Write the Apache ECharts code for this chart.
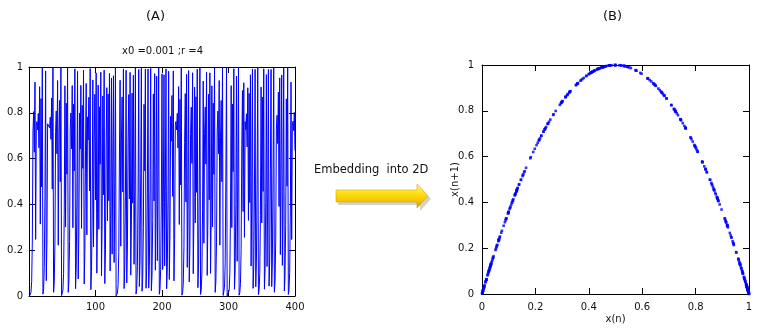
<!DOCTYPE html>
<html>
<head>
<meta charset="utf-8">
<script src="https://cdn.jsdelivr.net/npm/echarts@6/dist/echarts.min.js"></script>
<style>
html,body{margin:0;padding:0;background:#fff;}
#c{width:765px;height:330px;}
</style>
</head>
<body>
<div id="c"></div>
<script>
// Time series x(n), n = 1..400 (x0 = 0.001, r = 4)
const seriesValues = [
0.001,0.004,0.016,0.063,0.236,0.721,0.805,0.628,0.934,0.247,
0.744,0.762,0.725,0.797,0.647,0.914,0.314,0.862,0.476,0.998,
0.008,0.032,0.124,0.434,0.983,0.067,0.251,0.752,0.746,0.758,
0.734,0.781,0.684,0.865,0.467,0.996,0.0159,0.0626,0.235,0.719,
0.808,0.621,0.941,0.222,0.691,0.854,0.499,0.9996,0.0016,0.0064,
0.0254,0.099,0.357,0.918,0.301,0.842,0.532,0.996,0.0161,0.0634,
0.2375,0.724,0.799,0.642,0.919,0.298,0.837,0.546,0.992,0.0317,
0.1228,0.431,0.981,0.0746,0.276,0.7993,0.6417,0.9197,0.2954,0.8326,
0.5575,0.9868,0.0521,0.1975,0.634,0.9282,0.2666,0.7821,0.6817,0.8679,
0.4586,0.9931,0.0274,0.1066,0.3809,0.9433,0.2139,0.6726,0.8808,0.42,
0.9744,0.0998,0.3594,0.9209,0.2914,0.8259,0.5752,0.9774,0.0884,0.3223,
0.8737,0.4414,0.9863,0.054,0.2043,0.6502,0.9098,0.3283,0.8821,0.416,
0.9718,0.1096,0.3904,0.952,0.1828,0.5975,0.962,0.1462,0.4993,0.9998,
0.0008,0.0032,0.0128,0.0505,0.1918,0.6201,0.9423,0.2175,0.6808,0.8692,
0.4548,0.9918,0.0325,0.1258,0.4399,0.9856,0.0568,0.2143,0.6735,0.8796,
0.4236,0.9767,0.091,0.3309,0.8856,0.4053,0.9641,0.1384,0.477,0.9979,
0.0084,0.0333,0.1288,0.4488,0.9895,0.0416,0.1595,0.5362,0.9948,0.0207,
0.0811,0.2981,0.8369,0.546,0.9915,0.0337,0.1303,0.4533,0.9913,0.0345,
0.1332,0.4618,0.9942,0.0231,0.0903,0.3286,0.8825,0.4148,0.971,0.1126,
0.3997,0.9598,0.1543,0.522,0.9981,0.0076,0.0302,0.1172,0.4139,0.9703,
0.1153,0.408,0.9661,0.131,0.4554,0.992,0.0318,0.1232,0.4321,0.9816,
0.0722,0.2679,0.7845,0.6762,0.8758,0.4351,0.9832,0.0661,0.2469,0.7438,
0.7622,0.725,0.7975,0.646,0.9147,0.3121,0.8588,0.4851,0.9991,0.0036,
0.0143,0.0564,0.2129,0.6703,0.884,0.4102,0.9677,0.125,0.4375,0.9844,
0.0614,0.2305,0.7095,0.8244,0.5791,0.975,0.0975,0.352,0.9124,0.3197,
0.87,0.4524,0.9909,0.0361,0.1392,0.4793,0.9983,0.0068,0.027,0.1051,
0.3762,0.9387,0.2302,0.7088,0.8256,0.5759,0.977,0.0899,0.3273,0.8807,
0.4203,0.9746,0.099,0.3568,0.9179,0.3014,0.8422,0.5316,0.996,0.01594,
0.0627,0.2351,0.7193,0.8076,0.6215,0.941,0.2221,0.6911,0.8539,0.499,
0.9994,0.0024,0.0096,0.038,0.1458,0.4982,0.9999,0.0004,0.0016,0.0064,
0.0254,0.0992,0.3574,0.9187,0.2988,0.8381,0.5428,0.9927,0.029,0.1129,
0.4006,0.9605,0.1518,0.515,0.9991,0.0035,0.014,0.0552,0.2086,0.6603,
0.8972,0.3689,0.9313,0.2559,0.7617,0.7261,0.7955,0.6507,0.9092,0.3302,
0.8847,0.408,0.9662,0.1306,0.4542,0.9916,0.0334,0.1291,0.4497,0.9899,
0.04,0.1536,0.52,0.9984,0.0063,0.025,0.0976,0.3523,0.9127,0.3187,
0.8685,0.4568,0.9925,0.0298,0.1156,0.4089,0.9668,0.1284,0.4477,0.9891,
0.0431,0.165,0.5511,0.9896,0.0412,0.158,0.5321,0.9959,0.0163,0.0641,
0.24,0.7296,0.7891,0.6657,0.8902,0.391,0.9525,0.181,0.593,0.9654,
0.1336,0.463,0.9945,0.0219,0.0857,0.3134,0.8607,0.4796,0.9983,0.0067,
0.0266,0.1036,0.3715,0.934,0.2466,0.7432,0.7634,0.7225,0.802,0.6352
];
const leftXTicks = [0, 100, 200, 300, 400];
const unitTicks = [0, 0.2, 0.4, 0.6, 0.8, 1];

const lineData = seriesValues.map((v, i) => [i + 1, v]);
const embedData = seriesValues.slice(0, -1).map((v, i) => [v, seriesValues[i + 1]]);

const FONT = 'DejaVu Sans';
const lbl = {color: '#111', fontSize: 10, fontFamily: FONT};
function axisBase(extra) {
  return Object.assign({
    type: 'value',
    axisLine: {show: true, onZero: false, lineStyle: {color: '#000', width: 1}},
    axisTick: {show: true, inside: true, length: 6, lineStyle: {color: '#000'}},
    splitLine: {show: false},
    axisLabel: Object.assign({}, lbl)
  }, extra);
}

const chart = echarts.init(document.getElementById('c'), null, {renderer: 'canvas'});
chart.setOption({
  animation: false,
  backgroundColor: '#fff',
  grid: [
    {left: 29, right: 470, top: 67, bottom: 34},
    {left: 482, right: 16, top: 65, bottom: 36}
  ],
  xAxis: [
    axisBase({gridIndex: 0, min: leftXTicks[0], max: leftXTicks[leftXTicks.length - 1], interval: 100, position: 'bottom',
      axisLabel: Object.assign({}, lbl, {margin: 6, formatter: v => (v === 0 ? '' : String(v))})}),
    axisBase({gridIndex: 0, min: 0, max: 400, interval: 100, position: 'top', axisLabel: {show: false}}),
    axisBase({gridIndex: 1, min: unitTicks[0], max: unitTicks[unitTicks.length - 1], interval: 0.2, position: 'bottom',
      axisLabel: Object.assign({}, lbl, {margin: 8}),
      name: 'x(n)', nameLocation: 'middle', nameGap: 20, nameMoveOverlap: false,
      nameTextStyle: {color: '#111', fontSize: 10, fontFamily: FONT}}),
    axisBase({gridIndex: 1, min: 0, max: 1, interval: 0.2, position: 'top', axisLabel: {show: false}})
  ],
  yAxis: [
    axisBase({gridIndex: 0, min: 0, max: 1, interval: 0.2, position: 'left', axisLabel: Object.assign({}, lbl, {margin: 6})}),
    axisBase({gridIndex: 0, min: 0, max: 1, interval: 0.2, position: 'right', axisLabel: {show: false}}),
    axisBase({gridIndex: 1, min: 0, max: 1, interval: 0.2, position: 'left', axisLabel: Object.assign({}, lbl, {margin: 8}),
      name: 'x(n+1)', nameLocation: 'middle', nameGap: 22, nameRotate: 90, nameMoveOverlap: false,
      nameTextStyle: {color: '#111', fontSize: 10, fontFamily: FONT}}),
    axisBase({gridIndex: 1, min: 0, max: 1, interval: 0.2, position: 'right', axisLabel: {show: false}})
  ],
  series: [
    {type: 'line', xAxisIndex: 0, yAxisIndex: 0, data: lineData, showSymbol: false, symbol: 'none',
      lineStyle: {color: '#0000ff', width: 1}, silent: true},
    {type: 'scatter', xAxisIndex: 2, yAxisIndex: 2, data: embedData, symbol: 'rect', symbolSize: 2.6,
      itemStyle: {color: '#0000ff'}, silent: true}
  ],
  graphic: [
    {type: 'text', left: 146, top: 10, style: {text: '(A)', fill: '#111', font: '13px ' + FONT}},
    {type: 'text', left: 603, top: 10, style: {text: '(B)', fill: '#111', font: '13px ' + FONT}},
    {type: 'text', left: 122, top: 46, style: {text: 'x0 =0.001 ;r =4', fill: '#111', font: '10px ' + FONT}},
    {type: 'text', left: 314, top: 164, style: {text: 'Embedding  into 2D', fill: '#111', font: '11.5px ' + FONT}},
    {type: 'polygon', shape: {points: [[338,193],[420,193],[420,187],[431,199],[420,211],[420,205],[338,205]]},
      style: {fill: 'rgba(0,0,0,0.18)'}},
    {type: 'polygon', shape: {points: [[336,190],[417,190],[417,184],[428,196],[417,208],[417,202],[336,202]]},
      style: {
        fill: new echarts.graphic.LinearGradient(0, 0, 0, 1, [
          {offset: 0, color: '#fff6a0'},
          {offset: 0.35, color: '#ffe21a'},
          {offset: 0.7, color: '#f5c400'},
          {offset: 1, color: '#c89600'}
        ]),
        stroke: '#d8a800', lineWidth: 0.6
      }}
  ]
});
</script>
</body>
</html>
